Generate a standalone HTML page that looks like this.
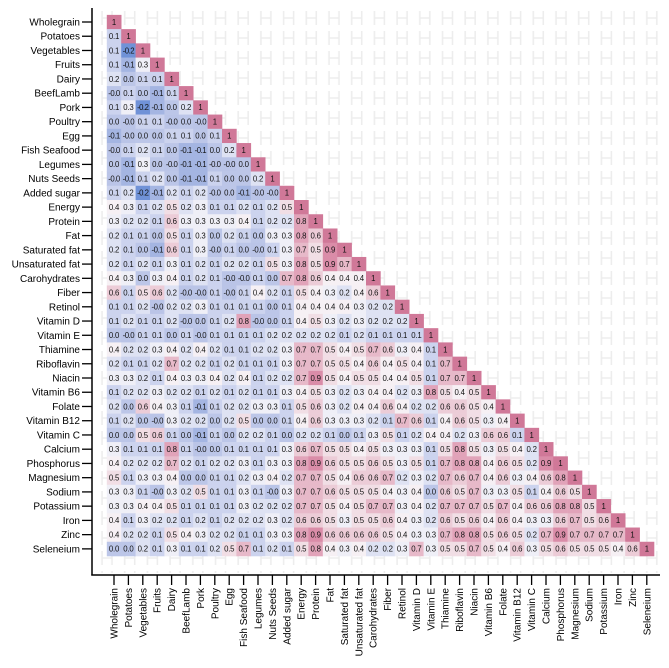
<!DOCTYPE html>
<html><head><meta charset="utf-8">
<style>
html,body{margin:0;padding:0;background:#fff;}
svg{display:block;font-family:"Liberation Sans",sans-serif;}
</style></head>
<body>
<svg id="chart" width="669" height="668" viewBox="0 0 669 668" xmlns="http://www.w3.org/2000/svg">
<defs>
<pattern id="wm" x="96" y="8" width="22.7" height="20" patternUnits="userSpaceOnUse">
<g stroke="#ededed" stroke-width="1.6" fill="none">
<path d="M6 3 V17 M16 3 V17 M6 10 H16"/>
</g>
</pattern>
</defs>
<rect x="94" y="6" width="570" height="567" fill="url(#wm)"/>
<g id="cells"></g>
<g id="ylabels"></g>
<g id="xlabels"></g>
<line x1="92" y1="8" x2="92" y2="575.5" stroke="#000" stroke-width="1.5"/>
<line x1="91.3" y1="575" x2="660" y2="575" stroke="#000" stroke-width="1.5"/>
</svg>
<script>
const categories = ["Wholegrain","Potatoes","Vegetables","Fruits","Dairy","BeefLamb","Pork","Poultry","Egg","Fish Seafood","Legumes","Nuts Seeds","Added sugar","Energy","Protein","Fat","Saturated fat","Unsaturated fat","Carohydrates","Fiber","Retinol","Vitamin D","Vitamin E","Thiamine","Riboflavin","Niacin","Vitamin B6","Folate","Vitamin B12","Vitamin C","Calcium","Phosphorus","Magnesium","Sodium","Potassium","Iron","Zinc","Seleneium"];
const corrRows = [
[],
[0.1],
[0.1,-0.2],
[0.1,-0.1,0.3],
[0.2,0.0,0.1,0.1],
[-0.01,0.1,0.0,-0.1,0.1],
[0.1,0.3,-0.2,-0.1,0.0,0.2],
[0.0,-0.01,0.1,0.1,-0.01,0.0,-0.01],
[-0.1,-0.01,0.0,0.0,0.1,0.1,0.0,0.1],
[-0.01,0.1,0.2,0.1,0.0,-0.1,-0.1,0.0,0.2],
[0.0,-0.1,0.3,0.0,-0.01,-0.1,-0.1,-0.01,-0.01,0.0],
[-0.01,-0.1,0.1,0.2,0.0,-0.1,-0.1,0.1,0.0,0.0,0.2],
[0.1,0.2,-0.2,-0.1,0.2,0.1,0.2,-0.01,0.0,-0.1,-0.01,-0.01],
[0.4,0.3,0.1,0.2,0.5,0.2,0.3,0.1,0.1,0.2,0.1,0.2,0.5],
[0.3,0.2,0.2,0.1,0.6,0.3,0.3,0.3,0.3,0.4,0.1,0.2,0.2,0.8],
[0.2,0.1,0.1,0.0,0.5,0.1,0.3,0.0,0.2,0.1,0.0,0.3,0.3,0.8,0.6],
[0.2,0.1,0.0,-0.1,0.6,0.1,0.3,-0.01,0.1,0.0,-0.01,0.1,0.3,0.7,0.5,0.9],
[0.2,0.1,0.2,0.1,0.3,0.1,0.2,0.1,0.2,0.2,0.1,0.5,0.3,0.8,0.5,0.9,0.7],
[0.4,0.3,0.0,0.3,0.4,0.1,0.2,0.1,-0.01,-0.01,0.1,0.0,0.7,0.8,0.6,0.4,0.4,0.4],
[0.6,0.1,0.5,0.6,0.2,-0.01,-0.01,0.1,-0.01,0.1,0.4,0.2,0.1,0.5,0.4,0.3,0.2,0.4,0.6],
[0.1,0.1,0.2,-0.01,0.2,0.2,0.3,0.1,0.1,0.1,0.1,0.0,0.1,0.4,0.4,0.4,0.4,0.3,0.2,0.2],
[0.1,0.2,0.1,0.1,0.2,-0.01,0.0,0.1,0.2,0.8,-0.01,0.0,0.1,0.4,0.5,0.3,0.2,0.3,0.2,0.2,0.2],
[0.0,-0.01,0.1,0.1,0.0,0.1,-0.01,0.1,0.1,0.1,0.1,0.2,0.2,0.2,0.2,0.2,0.1,0.2,0.1,0.1,0.1,0.1],
[0.4,0.2,0.2,0.3,0.4,0.2,0.4,0.2,0.1,0.1,0.2,0.2,0.3,0.7,0.7,0.5,0.4,0.5,0.7,0.6,0.3,0.4,0.1],
[0.2,0.1,0.1,0.2,0.7,0.2,0.2,0.1,0.2,0.1,0.1,0.1,0.3,0.7,0.7,0.5,0.5,0.4,0.6,0.4,0.5,0.4,0.1,0.7],
[0.3,0.3,0.2,0.1,0.4,0.3,0.3,0.4,0.2,0.4,0.1,0.2,0.2,0.7,0.9,0.5,0.4,0.5,0.5,0.4,0.4,0.5,0.1,0.7,0.7],
[0.1,0.2,0.2,0.3,0.2,0.2,0.1,0.2,0.1,0.2,0.1,0.1,0.3,0.4,0.5,0.3,0.2,0.3,0.4,0.4,0.2,0.3,0.8,0.5,0.4,0.5],
[0.2,0.0,0.6,0.4,0.3,0.1,-0.1,0.1,0.2,0.2,0.3,0.3,0.1,0.5,0.6,0.3,0.2,0.4,0.4,0.6,0.4,0.2,0.2,0.6,0.6,0.5,0.4],
[0.1,0.2,0.0,-0.01,0.3,0.2,0.2,0.0,0.2,0.5,0.0,0.0,0.1,0.4,0.6,0.3,0.3,0.3,0.2,0.1,0.7,0.6,0.1,0.4,0.6,0.5,0.3,0.4],
[0.0,0.0,0.5,0.6,0.1,0.0,-0.1,0.1,0.0,0.2,0.2,0.1,0.0,0.2,0.2,0.1,0.0,0.1,0.3,0.5,0.1,0.2,0.4,0.4,0.2,0.3,0.6,0.6,0.1],
[0.3,0.1,0.1,0.1,0.8,0.1,-0.01,0.0,0.1,0.1,0.1,0.1,0.3,0.6,0.7,0.5,0.5,0.4,0.5,0.3,0.3,0.3,0.1,0.5,0.8,0.5,0.3,0.5,0.4,0.2],
[0.4,0.2,0.2,0.2,0.7,0.2,0.1,0.2,0.2,0.3,0.1,0.3,0.3,0.8,0.9,0.6,0.5,0.5,0.6,0.5,0.3,0.5,0.1,0.7,0.8,0.8,0.4,0.6,0.5,0.2,0.9],
[0.5,0.1,0.3,0.3,0.4,0.0,0.0,0.1,0.1,0.2,0.3,0.4,0.2,0.7,0.7,0.5,0.4,0.6,0.6,0.7,0.2,0.3,0.2,0.7,0.6,0.7,0.4,0.6,0.3,0.4,0.6,0.8],
[0.3,0.3,0.1,-0.01,0.3,0.2,0.5,0.1,0.1,0.3,0.1,-0.01,0.3,0.7,0.7,0.6,0.5,0.5,0.5,0.4,0.3,0.4,0.0,0.6,0.5,0.7,0.3,0.3,0.5,0.1,0.4,0.6,0.5],
[0.3,0.3,0.4,0.4,0.5,0.1,0.1,0.1,0.1,0.3,0.2,0.2,0.2,0.7,0.7,0.5,0.4,0.5,0.7,0.7,0.3,0.4,0.2,0.7,0.7,0.7,0.5,0.7,0.4,0.6,0.6,0.8,0.8,0.5],
[0.4,0.1,0.3,0.2,0.2,0.1,0.2,0.1,0.2,0.2,0.2,0.3,0.2,0.6,0.6,0.5,0.3,0.5,0.5,0.6,0.4,0.3,0.2,0.6,0.5,0.6,0.4,0.6,0.4,0.3,0.3,0.6,0.7,0.5,0.6],
[0.4,0.2,0.2,0.1,0.5,0.4,0.3,0.2,0.2,0.1,0.1,0.3,0.3,0.8,0.9,0.6,0.6,0.6,0.6,0.5,0.4,0.3,0.3,0.7,0.8,0.8,0.5,0.6,0.5,0.2,0.7,0.9,0.7,0.7,0.7,0.7],
[0.0,0.0,0.2,0.1,0.3,0.1,0.1,0.2,0.5,0.7,0.1,0.2,0.1,0.5,0.8,0.4,0.3,0.4,0.2,0.2,0.3,0.7,0.3,0.5,0.5,0.7,0.5,0.4,0.6,0.3,0.5,0.6,0.5,0.5,0.5,0.4,0.6]
];
const colorStops = [-0.2,-0.1,0.0,0.1,0.2,0.3,0.4,0.5,0.7,0.9,1.0];

const NS = "http://www.w3.org/2000/svg";
const stopRGB = [[112,146,215],[164,181,226],[188,198,232],[204,211,238],[222,226,243],[239,239,247],[246,240,244],[241,222,229],[231,185,201],[218,140,168],[208,120,152]];
const x0 = 114, dx = 14.4, y0 = 22, dy = 14.24;
function xPos(c){ return x0 + dx*c; }
function yPos(r){ return y0 + dy*r; }
function color(v){
  if(v<=colorStops[0]) return "rgb("+stopRGB[0].join(",")+")";
  for(let i=1;i<colorStops.length;i++){
    if(v<=colorStops[i]){
      const t=(v-colorStops[i-1])/(colorStops[i]-colorStops[i-1]);
      const a=stopRGB[i-1], b=stopRGB[i];
      return "rgb("+a.map((x,k)=>Math.round(x+(b[k]-x)*t)).join(",")+")";
    }
  }
  return "rgb("+stopRGB[stopRGB.length-1].join(",")+")";
}
function fmt(v){ if(v===1) return "1"; if(v<0 && v>-0.05) return "-0.0"; return v.toFixed(1); }
const cellsG = document.getElementById("cells");
const n = categories.length;
for(let r=0;r<n;r++){
  const row = corrRows[r].concat([1]);
  for(let c=0;c<=r;c++){
    const v = row[c];
    const rect = document.createElementNS(NS,"rect");
    
    
    rect.setAttribute("x", (xPos(c)-dx/2).toFixed(2));
    rect.setAttribute("y", (yPos(r)-dy/2).toFixed(2));
    rect.setAttribute("width", (dx+0.3).toFixed(2));
    rect.setAttribute("height", (dy+0.3).toFixed(2));
    rect.setAttribute("fill", color(v));
    cellsG.appendChild(rect);
    const t = document.createElementNS(NS,"text");
    
    
    t.setAttribute("x", xPos(c).toFixed(2));
    t.setAttribute("y", (yPos(r)+2.8).toFixed(2));
    t.setAttribute("text-anchor","middle");
    t.setAttribute("font-size","7.8");
    t.setAttribute("fill","#111");
    t.setAttribute("letter-spacing", v<0 ? "-0.5" : "-0.2");
    t.textContent = fmt(v);
    cellsG.appendChild(t);
  }
}
const yl = document.getElementById("ylabels");
const xl = document.getElementById("xlabels");
categories.forEach((name,i)=>{
  const t = document.createElementNS(NS,"text");
  
  
  t.setAttribute("x", 80);
  t.setAttribute("y", (yPos(i)+3.5).toFixed(2));
  t.setAttribute("text-anchor","end");
  t.setAttribute("font-size","10");
  t.textContent = name;
  yl.appendChild(t);
  const tk = document.createElementNS(NS,"line");
  
  
  tk.setAttribute("x1",82); tk.setAttribute("x2",92);
  tk.setAttribute("y1",yPos(i)); tk.setAttribute("y2",yPos(i));
  tk.setAttribute("stroke","#000"); tk.setAttribute("stroke-width","1.3");
  yl.appendChild(tk);
  const xt = document.createElementNS(NS,"line");
  
  
  xt.setAttribute("x1",xPos(i)); xt.setAttribute("x2",xPos(i));
  xt.setAttribute("y1",575); xt.setAttribute("y2",585);
  xt.setAttribute("stroke","#000"); xt.setAttribute("stroke-width","1.3");
  xl.appendChild(xt);
  const tx = document.createElementNS(NS,"text");
  
  
  const cx = xPos(i)+3.5, cy = 588;
  tx.setAttribute("x", cx.toFixed(2));
  tx.setAttribute("y", cy);
  tx.setAttribute("text-anchor","end");
  tx.setAttribute("font-size","10");
  tx.setAttribute("transform","rotate(-90 "+cx.toFixed(2)+" "+cy+")");
  tx.textContent = name;
  xl.appendChild(tx);
});
</script>
</body></html>
